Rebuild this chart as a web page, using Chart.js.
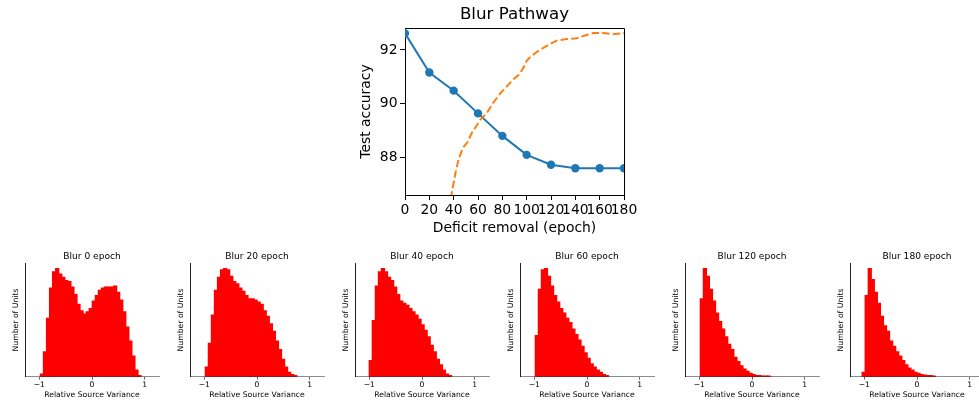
<!DOCTYPE html>
<html>
<head>
<meta charset="utf-8">
<script src="https://cdn.jsdelivr.net/npm/chart.js@4"></script>
<style>
  html, body { margin: 0; padding: 0; background: #fff; overflow: hidden; }
  body { width: 979px; height: 404px; position: relative; }
  canvas { position: absolute; }
</style>
</head>
<body>
<canvas id="pathway" width="300" height="240" style="left:340px;top:0;width:300px;height:240px"></canvas>
<script>
// Top panel: test accuracy vs. epoch of deficit removal
const epochs = [0, 20, 40, 60, 80, 100, 120, 140, 160, 180];
const blurAcc = [92.62, 91.16, 90.48, 89.63, 88.79, 88.08, 87.71, 87.58, 87.58, 87.58];
// dashed curve
const curveEpoch = [36, 38.2, 41.5, 44.2, 47.7, 51.5, 54.3, 57.8, 61.9, 67.4, 72.8, 78.3, 83.7, 89.2, 93.3, 96.8, 100.1, 104.2, 111, 117.8, 124.6, 132.8, 141, 147.8, 154.6, 162.8, 171, 180];
const curveAcc = [86.06, 86.6, 87.41, 87.94, 88.35, 88.56, 88.85, 89.1, 89.39, 89.66, 90.04, 90.38, 90.64, 90.91, 91.06, 91.29, 91.6, 91.79, 92.01, 92.19, 92.35, 92.41, 92.44, 92.54, 92.63, 92.63, 92.59, 92.63];
const epochTicks = [0, 20, 40, 60, 80, 100, 120, 140, 160, 180];
const accTicks = [88, 90, 92];

// Bottom panels: histograms of relative source variance
const histTitles = ['Blur 0 epoch', 'Blur 20 epoch', 'Blur 40 epoch', 'Blur 60 epoch', 'Blur 120 epoch', 'Blur 180 epoch'];
const histStarts = [-0.978, -0.98, -1.0, -0.98, -0.98, -1.04];
const binWidth = 0.0578;
const hist0 = [2.5, 23, 54, 82, 97, 100, 95, 92, 89, 88, 83, 76, 67, 61, 58, 60, 63, 70, 75, 80, 82, 83, 83, 83, 84, 78, 71, 60, 46, 33, 19, 6, 1];
const hist20 = [9, 31, 57, 80, 92, 99, 100, 99, 93, 88, 86, 82, 79, 75, 72, 72, 71, 69, 67, 61, 56, 49, 42, 33, 25, 16, 9, 4, 2, 1];
const hist40 = [15, 52, 84, 97, 100, 97, 92, 89, 83, 76, 70, 68, 66, 63, 60, 57, 53, 48, 43, 37, 29, 23, 16, 11, 6, 2.5, 1];
const hist60 = [38, 81, 99, 100, 93, 84, 75, 69, 63, 59, 54, 50, 44, 39, 34, 28, 22, 17, 12, 9, 6, 4, 2, 1];
const hist120 = [72, 100, 93, 81, 70, 59, 51, 44, 37, 30, 25, 18, 14, 10, 7, 5, 3, 2, 1, 1, 0.5, 0.5, 0.5];
const hist180 = [4, 75, 100, 90, 78, 68, 56, 47, 42, 33, 28, 23, 19, 15, 11, 8, 6, 4, 3, 2, 1.5, 1, 1, 0.5];
const histCounts = [hist0, hist20, hist40, hist60, hist120, hist180];
const varianceTicks = [-1, 0, 1];

Chart.defaults.font.family = "'DejaVu Sans', sans-serif";
Chart.defaults.color = '#000';

const minus = v => (v < 0 ? '\u2212' + Math.abs(v) : String(v));

// top and right spines for the line plot
const frame = {
  id: 'frame',
  afterDraw(chart) {
    const a = chart.chartArea, ctx = chart.ctx;
    ctx.save();
    ctx.strokeStyle = '#000';
    ctx.lineWidth = 1;
    ctx.beginPath();
    ctx.moveTo(Math.round(a.left), Math.round(a.top) + 0.5);
    ctx.lineTo(Math.round(a.right) + 0.5, Math.round(a.top) + 0.5);
    ctx.lineTo(Math.round(a.right) + 0.5, Math.round(a.bottom));
    ctx.stroke();
    ctx.restore();
  }
};

new Chart(document.getElementById('pathway'), {
  type: 'line',
  data: {
    datasets: [
      {
        data: curveEpoch.map((e, i) => ({ x: e, y: curveAcc[i] })),
        borderColor: '#ff7f0e',
        borderWidth: 2,
        borderDash: [7.4, 3.2],
        pointRadius: 0,
        tension: 0,
        order: 0
      },
      {
        data: epochs.map((e, i) => ({ x: e, y: blurAcc[i] })),
        borderColor: '#1f77b4',
        backgroundColor: '#1f77b4',
        borderWidth: 2,
        pointRadius: 4.2,
        pointBorderWidth: 0,
        pointBackgroundColor: '#1f77b4',
        tension: 0,
        order: 1
      }
    ]
  },
  options: {
    responsive: false,
    animation: false,
    layout: { padding: { right: 16 } },
    plugins: {
      legend: { display: false },
      tooltip: { enabled: false },
      title: {
        display: true,
        text: 'Blur Pathway',
        fullSize: false,
        font: { size: 16.7, weight: 'normal' },
        padding: { top: 5, bottom: 3 }
      }
    },
    scales: {
      x: {
        type: 'linear',
        min: 0,
        max: 180,
        afterBuildTicks: s => { s.ticks = epochTicks.map(v => ({ value: v })); },
        afterFit: s => { s.height = 45; },
        ticks: { font: { size: 13.9 }, padding: 2, autoSkip: false, maxRotation: 0 },
        grid: { drawOnChartArea: false, tickLength: 5, color: '#000' },
        border: { color: '#000', width: 1 },
        title: { display: true, text: 'Deficit removal (epoch)', font: { size: 13.9 }, padding: { top: 0, bottom: 3.4 } }
      },
      y: {
        min: 86.58,
        max: 92.82,
        afterBuildTicks: s => { s.ticks = accTicks.map(v => ({ value: v })); },
        afterFit: s => { s.width = 65; },
        ticks: { font: { size: 13.9 }, padding: 2.5 },
        grid: { drawOnChartArea: false, tickLength: 5, color: '#000' },
        border: { color: '#000', width: 1 },
        title: { display: true, text: 'Test accuracy', font: { size: 13.9 }, padding: { top: 18.3, bottom: 0 } }
      }
    }
  },
  plugins: [frame]
});

histCounts.forEach((counts, i) => {
  const c = document.createElement('canvas');
  c.width = 165;
  c.height = 156;
  c.style.left = (165 * i) + 'px';
  c.style.top = '248px';
  c.style.width = '165px';
  c.style.height = '156px';
  document.body.appendChild(c);

  new Chart(c, {
    type: 'bar',
    data: {
      datasets: [{
        data: counts.map((n, k) => ({ x: histStarts[i] + (k + 0.5) * binWidth, y: n })),
        backgroundColor: '#ff0000',
        borderWidth: 0,
        inflateAmount: 0.6,
        barPercentage: 1,
        categoryPercentage: 1
      }]
    },
    options: {
      responsive: false,
      animation: false,
      layout: { padding: { right: 6 } },
      plugins: {
        legend: { display: false },
        tooltip: { enabled: false },
        title: {
          display: true,
          text: histTitles[i],
          fullSize: false,
          font: { size: 9.1, weight: 'normal' },
          padding: { top: 3.4, bottom: 1 }
        }
      },
      scales: {
        x: {
          type: 'linear',
          offset: false,
          min: -1.27,
          max: 1.27,
          afterBuildTicks: s => { s.ticks = varianceTicks.map(v => ({ value: v })); },
          afterFit: s => { s.height = 27.3; },
          ticks: { font: { size: 7.6 }, padding: 1, autoSkip: false, maxRotation: 0, callback: v => minus(v) },
          grid: { display: true, drawOnChartArea: false, offset: false, tickLength: 3, color: '#444', lineWidth: 0.8 },
          border: { color: 'rgba(0,0,0,0.45)', width: 1, z: 1 },
          title: { display: true, text: 'Relative Source Variance', font: { size: 7.7 }, padding: { top: 0, bottom: 4.4 } }
        },
        y: {
          min: 0,
          max: 105,
          afterFit: s => { s.width = 25; },
          ticks: { display: false },
          grid: { display: false },
          border: { color: '#222', width: 1 },
          title: { display: true, text: 'Number of Units', font: { size: 7.7 }, padding: { top: 11.1, bottom: 0 } }
        }
      }
    }
  });
});
</script>
</body>
</html>
